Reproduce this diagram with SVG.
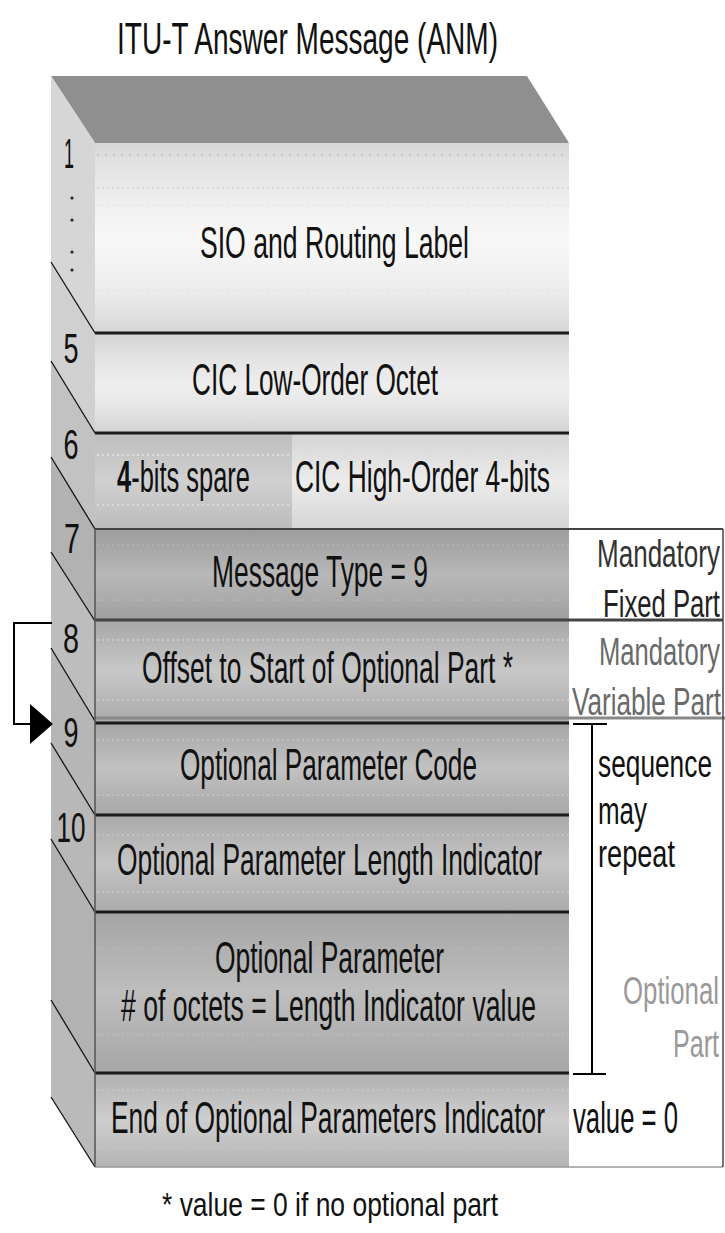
<svg xmlns="http://www.w3.org/2000/svg" width="725" height="1233" viewBox="0 0 725 1233">
<defs>
<style>
.t{font-family:"Liberation Sans",Arial,sans-serif;fill:#111;font-size:44px}
.d{font-family:"Liberation Sans",Arial,sans-serif;fill:#111;font-size:42px;text-anchor:middle}
.r{font-family:"Liberation Sans",Arial,sans-serif;font-size:38px}
.sep{stroke:#1a1a1a;stroke-width:3;fill:none}
.diag{stroke:#111;stroke-width:1.3;fill:none}
.con{stroke:#000;stroke-width:2;fill:none}
.tex{stroke-width:1.5;stroke-dasharray:2 3;fill:none}
</style>
<linearGradient id="gSIO" x1="0" y1="0" x2="0" y2="1"><stop offset="0" stop-color="#d6d6d6"/><stop offset="0.1" stop-color="#e2e2e2"/><stop offset="0.3" stop-color="#eeeeee"/><stop offset="0.5" stop-color="#f8f8f8"/><stop offset="0.75" stop-color="#eeeeee"/><stop offset="0.92" stop-color="#e0e0e0"/><stop offset="1" stop-color="#d4d4d4"/></linearGradient>
<linearGradient id="gCIC" x1="0" y1="0" x2="0" y2="1"><stop offset="0" stop-color="#d2d2d2"/><stop offset="0.3" stop-color="#e6e6e6"/><stop offset="0.55" stop-color="#eeeeee"/><stop offset="0.8" stop-color="#e2e2e2"/><stop offset="1" stop-color="#d2d2d2"/></linearGradient>
<linearGradient id="g6L" x1="0" y1="0" x2="0" y2="1"><stop offset="0" stop-color="#bebebe"/><stop offset="0.5" stop-color="#d0d0d0"/><stop offset="1" stop-color="#bcbcbc"/></linearGradient>
<linearGradient id="g6R" x1="0" y1="0" x2="0" y2="1"><stop offset="0" stop-color="#d4d4d4"/><stop offset="0.5" stop-color="#ececec"/><stop offset="1" stop-color="#d4d4d4"/></linearGradient>
<linearGradient id="g7" x1="0" y1="0" x2="0" y2="1"><stop offset="0" stop-color="#9c9c9c"/><stop offset="0.5" stop-color="#b8b8b8"/><stop offset="1" stop-color="#9e9e9e"/></linearGradient>
<linearGradient id="g8" x1="0" y1="0" x2="0" y2="1"><stop offset="0" stop-color="#a8a8a8"/><stop offset="0.5" stop-color="#c8c8c8"/><stop offset="1" stop-color="#aaaaaa"/></linearGradient>
<linearGradient id="g9" x1="0" y1="0" x2="0" y2="1"><stop offset="0" stop-color="#a4a4a4"/><stop offset="0.5" stop-color="#c2c2c2"/><stop offset="1" stop-color="#a6a6a6"/></linearGradient>
<linearGradient id="g10" x1="0" y1="0" x2="0" y2="1"><stop offset="0" stop-color="#aaaaaa"/><stop offset="0.5" stop-color="#c4c4c4"/><stop offset="1" stop-color="#aaaaaa"/></linearGradient>
<linearGradient id="gOP" x1="0" y1="0" x2="0" y2="1"><stop offset="0" stop-color="#a4a4a4"/><stop offset="0.5" stop-color="#bebebe"/><stop offset="1" stop-color="#a6a6a6"/></linearGradient>
<linearGradient id="gEnd" x1="0" y1="0" x2="0" y2="1"><stop offset="0" stop-color="#b0b0b0"/><stop offset="0.5" stop-color="#cecece"/><stop offset="1" stop-color="#b4b4b4"/></linearGradient>
<marker id="ah" markerUnits="userSpaceOnUse" markerWidth="24" markerHeight="40" refX="22" refY="20" orient="auto"><path d="M0,0 L23,20 L0,40 Z" fill="#000"/></marker>
</defs>
<rect width="725" height="1233" fill="#fff"/>

<text class="t" x="117" y="54" textLength="381" lengthAdjust="spacingAndGlyphs">ITU-T Answer Message (ANM)</text>

<g id="box-top">
<polygon points="51,76 527,76 569,143 95,143" fill="#8f8f8f"/>
</g>

<g id="right-panel">
<rect x="569" y="529" width="154" height="638" fill="#fff"/>
</g>

<g id="row-sio">
<polygon points="51,76 95,143 95,333 51,262" fill="#d6d6d6"/>
<rect x="95" y="143" width="474" height="190" fill="url(#gSIO)"/>
<line class="tex" x1="97" y1="155" x2="569" y2="155" stroke="#c0c0c0" style="stroke-dasharray:2 6"/>
<line class="tex" x1="97" y1="188" x2="569" y2="188" stroke="#d2d2d2"/>
<line class="tex" x1="97" y1="205" x2="569" y2="205" stroke="#e6e6e6"/>
<line class="tex" x1="97" y1="290" x2="569" y2="290" stroke="#e2e2e2"/>
<text class="d" x="69" y="168" textLength="10" lengthAdjust="spacingAndGlyphs">1</text>
<circle cx="72" cy="198" r="1.6" fill="#222"/>
<circle cx="72" cy="220" r="1.6" fill="#222"/>
<circle cx="72" cy="252" r="1.6" fill="#222"/>
<circle cx="72" cy="270" r="1.6" fill="#222"/>
<text class="t" x="200" y="258" textLength="269" lengthAdjust="spacingAndGlyphs">SIO and Routing Label</text>
</g>

<g id="row-cic-low">
<polygon points="51,262 95,333 95,433 51,361" fill="#d0d0d0"/>
<rect x="95" y="333" width="474" height="100" fill="url(#gCIC)"/>
<line class="tex" x1="97" y1="355" x2="569" y2="355" stroke="#e2e2e2"/>
<line class="tex" x1="97" y1="410" x2="569" y2="410" stroke="#e2e2e2"/>
<text class="d" x="71" y="363" textLength="15" lengthAdjust="spacingAndGlyphs">5</text>
<text class="t" x="192" y="395" textLength="246" lengthAdjust="spacingAndGlyphs">CIC Low-Order Octet</text>
</g>

<g id="row-6">
<polygon points="51,361 95,433 95,529 51,457" fill="#c2c2c2"/>
<rect x="95" y="433" width="197" height="96" fill="url(#g6L)"/>
<rect x="292" y="433" width="277" height="96" fill="url(#g6R)"/>
<line class="tex" x1="97" y1="455" x2="569" y2="455" stroke="#e4e4e4"/>
<line class="tex" x1="97" y1="505" x2="569" y2="505" stroke="#e0e0e0"/>
<text class="d" x="71" y="459" textLength="15" lengthAdjust="spacingAndGlyphs">6</text>
<text class="t" x="117" y="492" textLength="133" lengthAdjust="spacingAndGlyphs"><tspan font-weight="bold">4</tspan>-bits spare</text>
<text class="t" x="295" y="492" textLength="255" lengthAdjust="spacingAndGlyphs">CIC High-Order 4-bits</text>
</g>

<g id="row-7">
<polygon points="51,457 95,529 95,621 51,552" fill="#b2b2b2"/>
<rect x="95" y="529" width="474" height="92" fill="url(#g7)"/>
<line class="tex" x1="97" y1="545" x2="569" y2="545" stroke="#b4b4b4"/>
<line class="tex" x1="97" y1="600" x2="569" y2="600" stroke="#b8b8b8"/>
<text class="d" x="72" y="553" textLength="16" lengthAdjust="spacingAndGlyphs">7</text>
<text class="t" x="212" y="587" textLength="216" lengthAdjust="spacingAndGlyphs">Message Type = 9</text>
<text class="r" x="720" y="567" fill="#333" text-anchor="end" textLength="123" lengthAdjust="spacingAndGlyphs">Mandatory</text>
<text class="r" x="720" y="617" fill="#222" text-anchor="end" textLength="117" lengthAdjust="spacingAndGlyphs">Fixed Part</text>
</g>

<g id="row-8">
<polygon points="51,552 95,621 95,721 51,648" fill="#bdbdbd"/>
<rect x="95" y="621" width="474" height="100" fill="url(#g8)"/>
<line class="tex" x1="97" y1="640" x2="569" y2="640" stroke="#d0d0d0"/>
<line class="tex" x1="97" y1="700" x2="569" y2="700" stroke="#cccccc"/>
<text class="d" x="71" y="653" textLength="16" lengthAdjust="spacingAndGlyphs">8</text>
<text class="t" x="142" y="683" textLength="371" lengthAdjust="spacingAndGlyphs">Offset to Start of Optional Part *</text>
<text class="r" x="720" y="665" fill="#6a6a6a" text-anchor="end" textLength="121" lengthAdjust="spacingAndGlyphs">Mandatory</text>
<text class="r" x="572" y="715" fill="#6a6a6a" textLength="149" lengthAdjust="spacingAndGlyphs">Variable Part</text>
</g>

<g id="row-9">
<polygon points="51,648 95,721 95,815 51,743" fill="#b6b6b6"/>
<rect x="95" y="721" width="474" height="94" fill="url(#g9)"/>
<line class="tex" x1="97" y1="740" x2="569" y2="740" stroke="#c4c4c4"/>
<line class="tex" x1="97" y1="795" x2="569" y2="795" stroke="#c6c6c6"/>
<text class="d" x="71" y="747" textLength="15" lengthAdjust="spacingAndGlyphs">9</text>
<text class="t" x="180" y="780" textLength="297" lengthAdjust="spacingAndGlyphs">Optional Parameter Code</text>
</g>

<g id="row-10">
<polygon points="51,743 95,815 95,912 51,839" fill="#b8b8b8"/>
<rect x="95" y="815" width="474" height="97" fill="url(#g10)"/>
<line class="tex" x1="97" y1="835" x2="569" y2="835" stroke="#c8c8c8"/>
<line class="tex" x1="97" y1="892" x2="569" y2="892" stroke="#cacaca"/>
<text class="d" x="71" y="842" textLength="29" lengthAdjust="spacingAndGlyphs">10</text>
<text class="t" x="117" y="875" textLength="425" lengthAdjust="spacingAndGlyphs">Optional Parameter Length Indicator</text>
</g>

<g id="row-opt-param">
<polygon points="51,839 95,912 95,1073 51,1000" fill="#b2b2b2"/>
<rect x="95" y="912" width="474" height="161" fill="url(#gOP)"/>
<line class="tex" x1="97" y1="948" x2="569" y2="948" stroke="#b8b8b8"/>
<line class="tex" x1="97" y1="1035" x2="569" y2="1035" stroke="#bcbcbc"/>
<text class="t" x="215" y="973" textLength="229" lengthAdjust="spacingAndGlyphs">Optional Parameter</text>
<text class="t" x="121" y="1021" textLength="415" lengthAdjust="spacingAndGlyphs"># of octets = Length Indicator value</text>
</g>

<g id="row-end">
<polygon points="51,1000 95,1073 95,1167 51,1097" fill="#bababa"/>
<rect x="95" y="1073" width="474" height="94" fill="url(#gEnd)"/>
<line class="tex" x1="97" y1="1090" x2="569" y2="1090" stroke="#c8c8c8"/>
<line class="tex" x1="97" y1="1148" x2="569" y2="1148" stroke="#c8c8c8"/>
<text class="t" x="111" y="1133" textLength="434" lengthAdjust="spacingAndGlyphs">End of Optional Parameters Indicator</text>
<text class="t" x="573" y="1133" textLength="105" lengthAdjust="spacingAndGlyphs">value = 0</text>
</g>

<g id="optional-part-label">
<text class="r" x="598" y="777" fill="#111" textLength="114" lengthAdjust="spacingAndGlyphs">sequence</text>
<text class="r" x="598" y="824" fill="#111" textLength="49" lengthAdjust="spacingAndGlyphs">may</text>
<text class="r" x="598" y="867" fill="#111" textLength="77" lengthAdjust="spacingAndGlyphs">repeat</text>
<text class="r" x="719" y="1004" fill="#999" text-anchor="end" textLength="96" lengthAdjust="spacingAndGlyphs">Optional</text>
<text class="r" x="719" y="1057" fill="#999" text-anchor="end" textLength="46" lengthAdjust="spacingAndGlyphs">Part</text>
</g>

<g id="lines">
<line class="diag" x1="51" y1="262" x2="95" y2="333"/>
<line class="diag" x1="51" y1="361" x2="95" y2="433"/>
<line class="diag" x1="51" y1="457" x2="95" y2="529"/>
<line class="diag" x1="51" y1="552" x2="95" y2="621"/>
<line class="diag" x1="51" y1="648" x2="95" y2="721"/>
<line class="diag" x1="51" y1="743" x2="95" y2="815"/>
<line class="diag" x1="51" y1="839" x2="95" y2="912"/>
<line class="diag" x1="51" y1="1000" x2="95" y2="1073"/>
<line class="diag" x1="51" y1="1097" x2="95" y2="1167"/>
<line class="sep" x1="95" y1="333" x2="569" y2="333"/>
<line class="sep" x1="95" y1="433" x2="569" y2="433"/>
<line x1="95" y1="529" x2="723" y2="529" stroke="#444" stroke-width="2"/>
<line x1="95" y1="620" x2="723" y2="620" stroke="#444" stroke-width="3"/>
<line x1="95" y1="718" x2="725" y2="718" stroke="#888" stroke-width="3"/>
<line class="sep" x1="95" y1="723" x2="569" y2="723"/>
<line class="sep" x1="95" y1="815" x2="569" y2="815"/>
<line class="sep" x1="95" y1="912" x2="569" y2="912"/>
<line class="sep" x1="95" y1="1073" x2="569" y2="1073"/>
<line x1="95" y1="1167" x2="723" y2="1167" stroke="#999" stroke-width="1.5"/>
<line x1="95" y1="529" x2="95" y2="1167" stroke="#555" stroke-width="1.5"/>
<line x1="723" y1="529" x2="723" y2="1167" stroke="#444" stroke-width="1.5"/>
</g>

<g id="connectors">
<path class="con" d="M52,623 H14 V724 H52" marker-end="url(#ah)"/>
<path class="con" d="M573,724 H607 M592,724 V1074 M573,1074 H606"/>
</g>

<text class="r" x="162" y="1216" fill="#111" textLength="336" lengthAdjust="spacingAndGlyphs" style="font-size:34px">* value = 0 if no optional part</text>
</svg>
